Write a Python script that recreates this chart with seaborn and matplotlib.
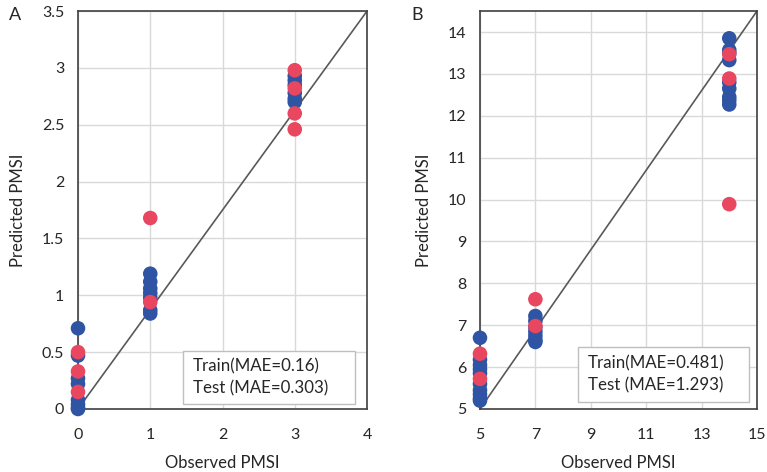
import numpy as np
import pandas as pd
import matplotlib.pyplot as plt
import seaborn as sns
from matplotlib.patches import Rectangle
from matplotlib.ticker import FuncFormatter

# Panel A values
a_train_obs = [0] * 8 + [1] * 7 + [3] * 6
a_train_pred = [0.71, 0.47, 0.27, 0.22, 0.08, 0.04, 0.01, 0.0,
                1.19, 1.12, 1.06, 1.02, 0.98, 0.87, 0.84,
                2.93, 2.89, 2.85, 2.78, 2.73, 2.70]
a_test_obs = [0, 0, 0, 1, 1, 3, 3, 3, 3]
a_test_pred = [0.50, 0.33, 0.15, 1.68, 0.94, 2.98, 2.82, 2.60, 2.46]

# Panel B values
b_train_obs = [5] * 10 + [7] * 7 + [14] * 9
b_train_pred = [6.70, 6.18, 6.05, 5.95, 5.85, 5.60, 5.45, 5.35, 5.25, 5.20,
                7.22, 7.10, 6.95, 6.85, 6.75, 6.65, 6.60,
                13.85, 13.57, 13.50, 13.33, 12.80, 12.65, 12.45, 12.37, 12.27]
b_test_obs = [5, 5, 7, 7, 14, 14, 14]
b_test_pred = [6.32, 5.72, 7.62, 6.98, 13.47, 12.89, 9.89]

a_note = "Train(MAE=0.16)\nTest (MAE=0.303)"
b_note = "Train(MAE=0.481)\nTest (MAE=1.293)"

blue = "#2f54a4"
red = "#e8475f"

sns.set_theme(style="whitegrid")
plt.rcParams['font.family'] = ['Lato', 'DejaVu Sans']


def make_df(tr_x, tr_y, te_x, te_y):
    return pd.DataFrame({
        'obs': tr_x + te_x,
        'pred': tr_y + te_y,
        'set': ['Train'] * len(tr_x) + ['Test'] * len(te_x),
    })


fig = plt.figure(figsize=(7.67, 4.72), dpi=100)
axA = fig.add_axes([0.1017, 0.1335, 0.3768, 0.843])
axB = fig.add_axes([0.6258, 0.1335, 0.3611, 0.843])

# box = (left, bottom, width, height) in axes fraction, text x
panels = [
    (axA, make_df(a_train_obs, a_train_pred, a_test_obs, a_test_pred),
     (0, 4), (0, 3.5), np.arange(0, 4.01, 1), np.arange(0, 3.51, 0.5), a_note,
     (0.363, 0.013, 0.595, 0.133), 0.398, "A"),
    (axB, make_df(b_train_obs, b_train_pred, b_test_obs, b_test_pred),
     (5, 15), (5, 14.5), np.arange(5, 15.01, 2), np.arange(5, 14.01, 1), b_note,
     (0.354, 0.018, 0.617, 0.138), 0.39, "B"),
]

for ax, df, xl, yl, xt, yt, note, box, tx, tag in panels:
    ax.plot([0, 1], [0, 1], transform=ax.transAxes, color="#595959", lw=1.2, zorder=2)
    sns.scatterplot(data=df, x='obs', y='pred', hue='set', palette={'Train': blue, 'Test': red},
                    hue_order=['Train', 'Test'], s=110, linewidth=0, alpha=1,
                    legend=False, ax=ax, zorder=3, clip_on=False)
    ax.set_xlim(*xl)
    ax.set_ylim(*yl)
    ax.set_xticks(xt)
    ax.set_yticks(yt)
    ax.xaxis.set_major_formatter(FuncFormatter(lambda v, p: f"{v:g}"))
    ax.yaxis.set_major_formatter(FuncFormatter(lambda v, p: f"{v:g}"))
    ax.grid(True, color="#d9d9d9", lw=1)
    for sp in ax.spines.values():
        sp.set_color("#404040")
        sp.set_linewidth(1.2)
    ax.tick_params(labelsize=11.5, colors="#262626", length=0)
    ax.tick_params(axis='x', pad=14)
    ax.tick_params(axis='y', pad=10)
    ax.set_xlabel("Observed PMSI", fontsize=12, color="#262626", labelpad=9)
    ax.set_ylabel("Predicted PMSI", fontsize=12, color="#262626", labelpad=11)
    ax.add_patch(Rectangle(box[:2], box[2], box[3], transform=ax.transAxes,
                           fc='white', ec='#bfbfbf', lw=1, zorder=4))
    ax.text(tx, box[1] + box[3] / 2, note, transform=ax.transAxes, fontsize=12.2, color="#262626",
            ha='left', va='center', linespacing=1.4, zorder=5)
    fig.text(ax.get_position().x0 - 0.09, 0.985, tag, fontsize=13, va='top', ha='left')

fig.savefig("out.png", dpi=100)
